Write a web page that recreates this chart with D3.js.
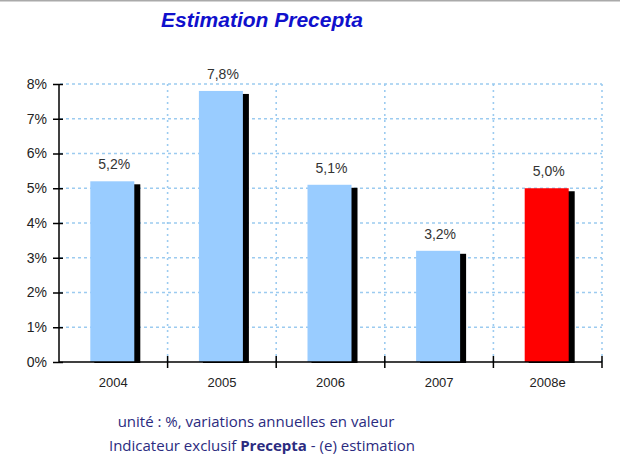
<!DOCTYPE html>
<html><head><meta charset="utf-8">
<script src="https://cdn.jsdelivr.net/npm/d3@7"></script>
<style>body{margin:0;background:#fff}svg{display:block}</style>
</head><body>
<script>
const categories = ["2004","2005","2006","2007","2008e"];
const values = [5.2, 7.8, 5.1, 3.2, 5.0];
const valueLabels = ["5,2%","7,8%","5,1%","3,2%","5,0%"];
const barColors = ["#99ccff","#99ccff","#99ccff","#99ccff","#ff0000"];
const yTicks = [0,1,2,3,4,5,6,7,8];

const W=620,H=465;
const svg=d3.select("body").append("svg").attr("width",W).attr("height",H);
svg.append("rect").attr("width",W).attr("height",H).attr("fill","#fff");
svg.append("line").attr("x1",0).attr("x2",W).attr("y1",0.5).attr("y2",0.5).attr("stroke","#aaa").attr("stroke-width",2);

const x=d3.scaleBand().domain(categories).range([59,602]).padding(0);
const y=d3.scaleLinear().domain([0,8]).range([362,84]);

// grid
const g=svg.append("g");
g.selectAll(".hg").data(yTicks.filter(d=>d>0)).enter().append("line")
 .attr("x1",60).attr("x2",602).attr("y1",d=>y(d)).attr("y2",d=>y(d))
 .attr("stroke","#9ccbf0").attr("stroke-width",1.6).attr("stroke-dasharray","3,3");
g.selectAll(".vg").data(categories).enter().append("line")
 .attr("x1",d=>x(d)+x.bandwidth()).attr("x2",d=>x(d)+x.bandwidth())
 .attr("y1",y(8)).attr("y2",y(0))
 .attr("stroke","#9ccbf0").attr("stroke-width",1.6).attr("stroke-dasharray","2,4");

// bars
const bw=44;
const bx=d=>x(d)+x.bandwidth()/2-1-bw/2;
svg.selectAll(".sh").data(categories).enter().append("rect")
 .attr("x",d=>bx(d)+4).attr("width",bw+2)
 .attr("y",(d,i)=>y(values[i])+3).attr("height",(d,i)=>y(0)-y(values[i])-2)
 .attr("fill","#000");
svg.selectAll(".bar").data(categories).enter().append("rect")
 .attr("x",d=>bx(d)).attr("width",bw)
 .attr("y",(d,i)=>y(values[i])).attr("height",(d,i)=>y(0)-y(values[i]))
 .attr("fill",(d,i)=>barColors[i]);

svg.selectAll(".vl").data(categories).enter().append("text")
 .attr("x",d=>bx(d)+bw/2+2).attr("y",(d,i)=>y(values[i])-12)
 .attr("text-anchor","middle").attr("font-family","Liberation Sans, Arial, sans-serif")
 .attr("font-size",14).attr("fill","#333").text((d,i)=>valueLabels[i]);

// axes
const yAxis=svg.append("g").attr("transform","translate(59,0)")
 .call(d3.axisLeft(y).tickValues(yTicks).tickFormat(d=>d+"%").tickSize(6).tickPadding(6));
yAxis.selectAll(".tick line").attr("x2",-6).attr("x1",4);
const xAxis=svg.append("g").attr("transform","translate(0,362)")
 .call(d3.axisBottom(x).tickSize(0).tickPadding(16));
svg.selectAll(".xt").data(categories).enter().append("line")
 .attr("x1",d=>x(d)+x.bandwidth()).attr("x2",d=>x(d)+x.bandwidth())
 .attr("y1",356).attr("y2",368).attr("stroke","#000").attr("stroke-width",1.5);
[yAxis,xAxis].forEach(a=>{
 a.select(".domain").attr("stroke","#000").attr("stroke-width",1.5);
 a.selectAll(".tick line").attr("stroke","#000").attr("stroke-width",1.5);
 a.selectAll("text").attr("font-family","Liberation Sans, Arial, sans-serif").attr("fill","#222");
});
yAxis.selectAll("text").attr("font-size",14);
xAxis.selectAll("text").attr("font-size",13);
xAxis.select(".domain").attr("d","M59,0H602");
yAxis.select(".domain").attr("d","M0,84V362");

// title
svg.append("text").attr("x",262).attr("y",27).attr("text-anchor","middle")
 .attr("font-family","Liberation Sans, Arial, sans-serif").attr("font-weight","bold").attr("font-style","italic")
 .attr("font-size",21).attr("fill","#1010cc").text("Estimation Precepta");

// footer
svg.append("text").attr("x",256).attr("y",427).attr("text-anchor","middle")
 .attr("font-family","Open Sans, sans-serif").attr("font-size",15).attr("fill","#2b2b80")
 .text("unité : %, variations annuelles en valeur");
const f2=svg.append("text").attr("x",262).attr("y",451).attr("text-anchor","middle")
 .attr("font-family","Open Sans, sans-serif").attr("font-size",15).attr("fill","#2b2b80");
f2.append("tspan").text("Indicateur exclusif ");
f2.append("tspan").attr("font-weight","bold").text("Precepta");
f2.append("tspan").text(" - (e) estimation");
</script>
</body></html>
